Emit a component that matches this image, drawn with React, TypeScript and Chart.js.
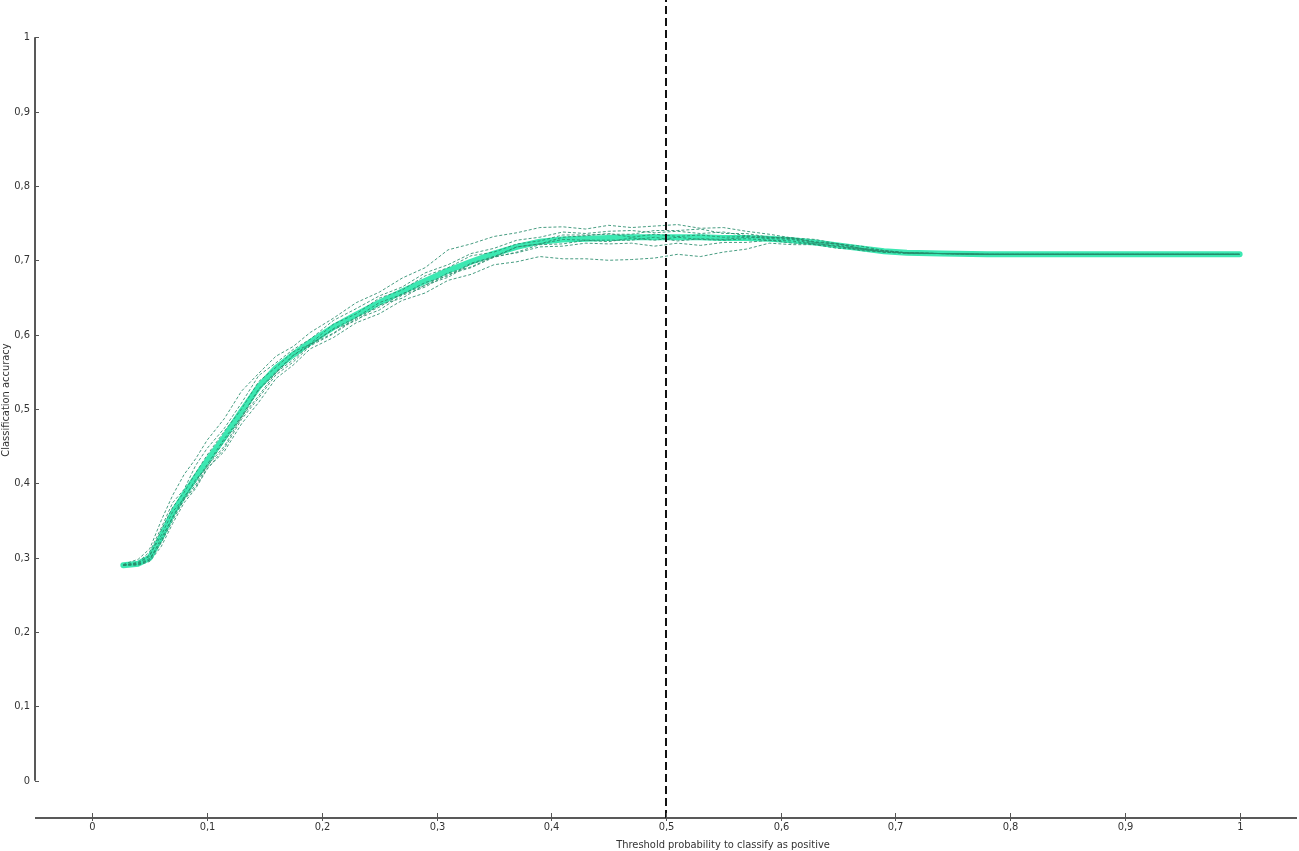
import { useEffect, useRef } from "react";
import { Chart, registerables } from "chart.js";

Chart.register(...registerables);

const thresholds = [0.027, 0.04, 0.05, 0.06, 0.07, 0.08, 0.09, 0.10, 0.115, 0.13, 0.145, 0.16, 0.175, 0.19, 0.21, 0.23, 0.25, 0.27, 0.29, 0.31, 0.33, 0.35, 0.37, 0.39, 0.41, 0.43, 0.45, 0.47, 0.49, 0.51, 0.53, 0.55, 0.57, 0.59, 0.61, 0.63, 0.65, 0.67, 0.69, 0.71, 0.74, 0.78, 0.85, 1.0];

const meanAccuracy = [0.290, 0.292, 0.300, 0.328, 0.360, 0.385, 0.408, 0.430, 0.462, 0.497, 0.530, 0.555, 0.573, 0.590, 0.610, 0.627, 0.643, 0.658, 0.672, 0.686, 0.698, 0.709, 0.718, 0.725, 0.728, 0.729, 0.730, 0.731, 0.731, 0.731, 0.731, 0.730, 0.730, 0.729, 0.727, 0.724, 0.720, 0.716, 0.712, 0.710, 0.709, 0.708, 0.708, 0.708];

const fold1 = [0.291, 0.298, 0.312, 0.350, 0.384, 0.412, 0.433, 0.458, 0.487, 0.524, 0.548, 0.571, 0.584, 0.603, 0.622, 0.643, 0.657, 0.676, 0.690, 0.714, 0.722, 0.732, 0.737, 0.744, 0.745, 0.742, 0.747, 0.744, 0.746, 0.748, 0.743, 0.744, 0.739, 0.735, 0.730, 0.728, 0.722, 0.719, 0.713, 0.710, 0.709, 0.708, 0.708, 0.708];
const fold2 = [0.290, 0.294, 0.308, 0.340, 0.374, 0.392, 0.424, 0.447, 0.474, 0.508, 0.545, 0.562, 0.580, 0.594, 0.619, 0.635, 0.652, 0.664, 0.683, 0.694, 0.709, 0.716, 0.727, 0.731, 0.738, 0.736, 0.739, 0.740, 0.737, 0.739, 0.736, 0.738, 0.733, 0.731, 0.729, 0.724, 0.722, 0.716, 0.713, 0.710, 0.709, 0.708, 0.708, 0.708];
const fold3 = [0.290, 0.292, 0.299, 0.322, 0.355, 0.382, 0.402, 0.425, 0.460, 0.490, 0.527, 0.550, 0.572, 0.586, 0.608, 0.623, 0.643, 0.654, 0.670, 0.679, 0.696, 0.705, 0.718, 0.722, 0.731, 0.733, 0.736, 0.731, 0.735, 0.732, 0.734, 0.731, 0.732, 0.729, 0.728, 0.722, 0.720, 0.714, 0.712, 0.710, 0.709, 0.708, 0.708, 0.708];
const fold4 = [0.290, 0.290, 0.295, 0.315, 0.346, 0.374, 0.393, 0.419, 0.447, 0.486, 0.515, 0.546, 0.563, 0.585, 0.601, 0.621, 0.633, 0.653, 0.664, 0.681, 0.690, 0.704, 0.711, 0.721, 0.722, 0.727, 0.725, 0.730, 0.727, 0.731, 0.728, 0.727, 0.729, 0.727, 0.726, 0.721, 0.719, 0.713, 0.711, 0.710, 0.709, 0.708, 0.708, 0.708];
const fold5 = [0.290, 0.291, 0.297, 0.320, 0.350, 0.378, 0.395, 0.420, 0.443, 0.480, 0.509, 0.541, 0.559, 0.581, 0.596, 0.616, 0.628, 0.646, 0.656, 0.673, 0.681, 0.694, 0.698, 0.705, 0.702, 0.702, 0.700, 0.701, 0.703, 0.708, 0.705, 0.711, 0.715, 0.723, 0.721, 0.721, 0.716, 0.715, 0.711, 0.709, 0.709, 0.708, 0.708, 0.708];
const fold6 = [0.290, 0.293, 0.302, 0.337, 0.368, 0.388, 0.414, 0.438, 0.470, 0.500, 0.537, 0.556, 0.577, 0.587, 0.607, 0.619, 0.640, 0.649, 0.667, 0.677, 0.695, 0.704, 0.718, 0.722, 0.728, 0.727, 0.727, 0.727, 0.731, 0.726, 0.729, 0.728, 0.731, 0.730, 0.730, 0.725, 0.722, 0.715, 0.712, 0.710, 0.709, 0.708, 0.708, 0.708];
const fold7 = [0.290, 0.293, 0.304, 0.330, 0.362, 0.380, 0.405, 0.422, 0.457, 0.488, 0.526, 0.548, 0.572, 0.588, 0.614, 0.628, 0.649, 0.660, 0.679, 0.690, 0.706, 0.711, 0.722, 0.726, 0.734, 0.734, 0.735, 0.735, 0.740, 0.740, 0.742, 0.736, 0.736, 0.731, 0.730, 0.724, 0.722, 0.716, 0.713, 0.710, 0.709, 0.708, 0.708, 0.708];
const fold8 = [0.290, 0.291, 0.297, 0.326, 0.354, 0.379, 0.398, 0.423, 0.450, 0.489, 0.518, 0.549, 0.566, 0.587, 0.602, 0.623, 0.637, 0.655, 0.666, 0.683, 0.691, 0.705, 0.710, 0.718, 0.719, 0.723, 0.722, 0.723, 0.719, 0.723, 0.720, 0.724, 0.724, 0.727, 0.723, 0.723, 0.718, 0.716, 0.711, 0.710, 0.709, 0.708, 0.708, 0.708];

const folds = [fold1, fold2, fold3, fold4, fold5, fold6, fold7, fold8];

const cutoffX = [0.5, 0.5];
const cutoffY = [-0.05, 1.05];

const xTicks = [0, 0.1, 0.2, 0.3, 0.4, 0.5, 0.6, 0.7, 0.8, 0.9, 1];
const yTicks = [0, 0.1, 0.2, 0.3, 0.4, 0.5, 0.6, 0.7, 0.8, 0.9, 1];

const xTitle = "Threshold probability to classify as positive";
const yTitle = "Classification accuracy";

const FONT_FAMILY = "'Liberation Sans Narrow', 'DejaVu Sans Condensed', 'Liberation Sans', sans-serif";
const fmt = (v: number) => String(v).replace(".", ",");

const pairs = (xs: number[], ys: number[]) => xs.map((x, i) => ({ x, y: ys[i] }));

const spinesPlugin = {
  id: "spines",
  afterDraw(chart: any) {
    const { ctx, chartArea, scales } = chart;
    const x = scales.x;
    const y = scales.y;
    ctx.save();
    ctx.strokeStyle = "#222";
    ctx.lineWidth = 1.5;
    const left = chartArea.left;
    // y spine
    ctx.beginPath();
    ctx.moveTo(left, y.getPixelForValue(0));
    ctx.lineTo(left, y.getPixelForValue(1));
    ctx.stroke();
    ctx.lineWidth = 1;
    ctx.strokeStyle = "#555";
    ctx.fillStyle = "#333";
    ctx.font = `11px ${FONT_FAMILY}`;
    ctx.textAlign = "right";
    ctx.textBaseline = "middle";
    yTicks.forEach((v) => {
      const py = Math.round(y.getPixelForValue(v)) + 0.5;
      ctx.beginPath();
      ctx.moveTo(left, py);
      ctx.lineTo(left + 4, py);
      ctx.stroke();
      ctx.fillText(fmt(v), left - 5, py);
    });
    // x spine
    ctx.strokeStyle = "#222";
    ctx.lineWidth = 1.5;
    const bottom = chartArea.bottom;
    ctx.beginPath();
    ctx.moveTo(left, bottom);
    ctx.lineTo(chartArea.right, bottom);
    ctx.stroke();
    ctx.lineWidth = 1;
    ctx.strokeStyle = "#555";
    ctx.textAlign = "center";
    ctx.textBaseline = "top";
    xTicks.forEach((v) => {
      const px = Math.round(x.getPixelForValue(v)) + 0.5;
      ctx.beginPath();
      ctx.moveTo(px, bottom - 5);
      ctx.lineTo(px, bottom + 3);
      ctx.stroke();
      ctx.fillText(fmt(v), px, bottom + 4);
    });
    // titles
    ctx.textBaseline = "middle";
    ctx.fillText(xTitle, 723, 845);
    ctx.translate(6, 400);
    ctx.rotate(-Math.PI / 2);
    ctx.fillText(yTitle, 0, 0);
    ctx.restore();
  },
};

export default function App() {
  const canvasRef = useRef<HTMLCanvasElement | null>(null);

  useEffect(() => {
    const canvas = canvasRef.current;
    if (!canvas) return;

    const foldSets = folds.map((f, i) => ({
      label: `Fold ${i + 1}`,
      data: pairs(thresholds, f),
      borderColor: "rgba(40, 140, 108, 0.85)",
      borderWidth: 1,
      borderDash: [3, 2],
      pointRadius: 0,
      tension: 0,
      order: 2,
    }));

    const chart = new Chart(canvas, {
      type: "line",
      data: {
        datasets: [
          {
            label: "Cutoff",
            data: pairs(cutoffX, cutoffY),
            borderColor: "#111",
            borderWidth: 2,
            borderDash: [8, 4],
            pointRadius: 0,
            order: 0,
          },
          ...foldSets,
          {
            label: "Mean",
            data: pairs(thresholds, meanAccuracy),
            borderColor: "#3ce8b2",
            borderWidth: 6,
            pointRadius: 0,
            tension: 0,
            borderCapStyle: "round",
            borderJoinStyle: "round",
            order: 10,
          },
        ],
      },
      options: {
        animation: false,
        responsive: false,
        maintainAspectRatio: false,
        layout: { padding: { top: 0, right: 2, left: 0, bottom: 0 } },
        plugins: { legend: { display: false }, tooltip: { enabled: false } },
        scales: {
          x: {
            type: "linear",
            min: -0.05,
            max: 1.05,
            grid: { display: false, drawTicks: false },
            border: { display: false },
            afterBuildTicks: (s: any) => {
              s.ticks = xTicks.map((v) => ({ value: v }));
            },
            afterFit: (s: any) => {
              s.height = 33;
            },
            ticks: { display: false },
          },
          y: {
            type: "linear",
            min: -0.05,
            max: 1.05,
            grid: { display: false, drawTicks: false },
            border: { display: false },
            afterBuildTicks: (s: any) => {
              s.ticks = yTicks.map((v) => ({ value: v }));
            },
            afterFit: (s: any) => {
              s.width = 35;
            },
            ticks: { display: false },
          },
        },
      },
      plugins: [spinesPlugin],
    });

    return () => chart.destroy();
  }, []);

  return (
    <div style={{ position: "absolute", left: 0, top: 0, width: 1299, height: 851, background: "#fff" }}>
      <canvas ref={canvasRef} width={1299} height={851} style={{ display: "block" }} />
    </div>
  );
}
